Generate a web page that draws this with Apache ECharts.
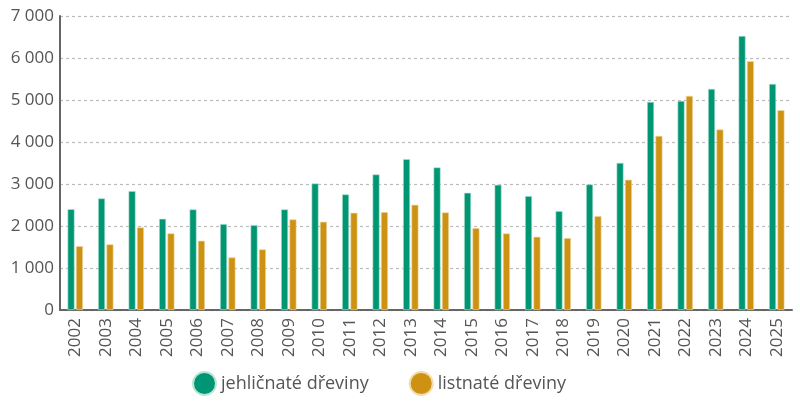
<!DOCTYPE html>
<html><head><meta charset="utf-8">
<script src="https://cdn.jsdelivr.net/npm/echarts@6/dist/echarts.min.js"></script>
<style>html,body{margin:0;padding:0;background:#fff}#c{width:800px;height:402px}</style>
</head><body><div id="c"></div>
<script>
var years = ['2002','2003','2004','2005','2006','2007','2008','2009','2010','2011','2012','2013','2014','2015','2016','2017','2018','2019','2020','2021','2022','2023','2024','2025'];
var jehlicnate = [2400,2657,2831,2172,2395,2046,2022,2395,3013,2752,3227,3592,3394,2791,2981,2712,2355,2989,3504,4955,4979,5264,6525,5383];
var listnate = [1520,1562,1967,1824,1649,1253,1443,2157,2101,2315,2331,2505,2323,1951,1824,1744,1713,2236,3100,4146,5098,4298,5923,4757];
var yTicks = [0,1000,2000,3000,4000,5000,6000,7000];
var names = ['jehličnaté dřeviny','listnaté dřeviny'];
var FONT = '"Open Sans", "Noto Sans", sans-serif';
var chart = echarts.init(document.getElementById('c'));
chart.setOption({
  animation:false,
  grid:{left:60,right:8,top:16,bottom:92},
  legend:{
    data:names, top:366, left:187, itemWidth:23, itemHeight:23, itemGap:40, icon:'circle',
    textStyle:{fontFamily:FONT,fontSize:18,color:'#555'}
  },
  xAxis:{
    type:'category', data:years,
    axisLine:{lineStyle:{color:'#666',width:2}},
    axisTick:{show:false},
    axisLabel:{rotate:90,interval:0,fontFamily:FONT,fontSize:17,color:'#555',margin:8}
  },
  yAxis:{
    type:'value', min:yTicks[0], max:yTicks[yTicks.length-1], interval:1000,
    axisLine:{show:true,lineStyle:{color:'#666',width:2}},
    axisTick:{show:false},
    splitLine:{lineStyle:{color:'#bbb',type:[3,3],width:1.2}},
    axisLabel:{fontFamily:FONT,fontSize:17,color:'#555',margin:6,
      formatter:function(v){return String(v).replace(/\B(?=(\d{3})+(?!\d))/g,' ');}}
  },
  series:[
    {name:names[0],type:'bar',data:jehlicnate,barWidth:7,barGap:'20%',
     itemStyle:{color:'#009673',borderColor:'#b8e6d6',borderWidth:0.6}},
    {name:names[1],type:'bar',data:listnate,barWidth:7,
     itemStyle:{color:'#CD9212',borderColor:'#f0dcae',borderWidth:0.6}}
  ]
});
</script></body></html>
